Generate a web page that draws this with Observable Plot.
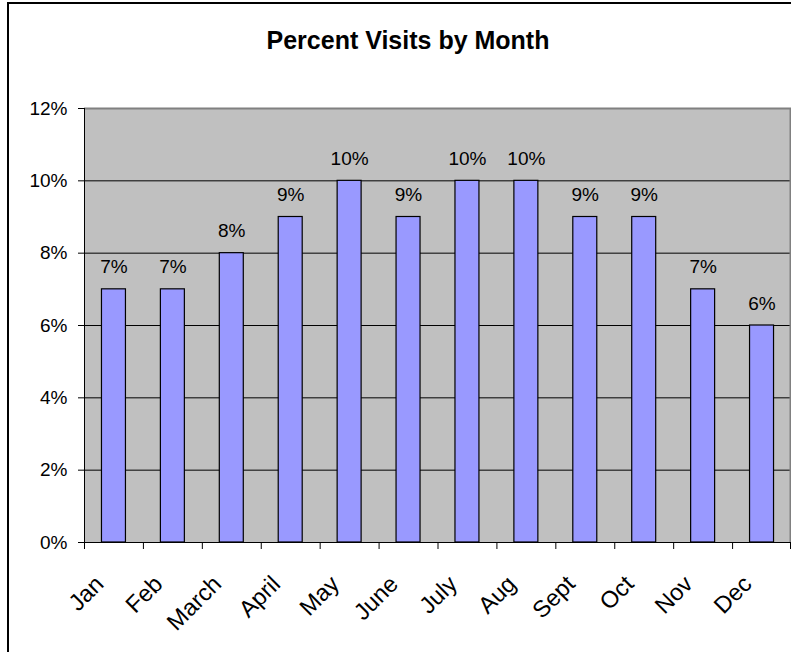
<!DOCTYPE html>
<html>
<head>
<meta charset="utf-8">
<script src="https://cdn.jsdelivr.net/npm/d3@7"></script>
<script src="https://cdn.jsdelivr.net/npm/@observablehq/plot@0.6"></script>
<style>
  html, body { margin: 0; padding: 0; background: #fff; overflow: hidden; }
  #wrap { position: relative; width: 791px; height: 652px; overflow: hidden; }
  #border { position: absolute; left: 7px; top: 2px; width: 900px; height: 800px;
            border-left: 2px solid #000; border-top: 2px solid #000; box-sizing: border-box; }
  #chart { position: absolute; left: 0; top: 0; }
</style>
</head>
<body>
<div id="wrap"><div id="border"></div><div id="chart"></div></div>
<script>
const title = "Percent Visits by Month";
const months = ["Jan", "Feb", "March", "April", "May", "June", "July", "Aug", "Sept", "Oct", "Nov", "Dec"];
const values = [7, 7, 8, 9, 10, 9, 10, 10, 9, 9, 7, 6];
const yTicks = [0, 2, 4, 6, 8, 10, 12];

const W = 791, H = 652, ML = 84, MR = 0, MT = 108, MB = 110;
const step = (W - ML - MR) / months.length;
const data = months.map((m, i) => ({month: m, value: values[i]}));
const font = "'Liberation Sans', Arial, sans-serif";

const chart = Plot.plot({
  width: W,
  height: H,
  marginLeft: ML,
  marginRight: MR,
  marginTop: MT,
  marginBottom: MB,
  style: {background: "transparent", fontFamily: font, color: "#000", overflow: "visible"},
  x: {type: "band", domain: months, paddingInner: 0.593, paddingOuter: 0.2965, round: false, axis: null},
  y: {domain: [0, 12], axis: null},
  marks: [
    Plot.frame({fill: "#C0C0C0", stroke: null}),
    Plot.ruleY(yTicks.filter(d => d > 0 && d < 12), {stroke: "#000", strokeWidth: 1}),
    Plot.barY(data, {x: "month", y: "value", fill: "#9999FF", stroke: "#000", strokeWidth: 1.2}),
    Plot.ruleY([12], {stroke: "#808080", strokeWidth: 2}),
    Plot.ruleX(["Dec"], {x: d => d, dx: step / 2 - 1, stroke: "#808080", strokeWidth: 2}),
    Plot.ruleX(["Jan"], {x: d => d, dx: -step / 2, stroke: "#000", strokeWidth: 1}),
    Plot.ruleY([0], {stroke: "#000", strokeWidth: 1}),
    // x ticks at category boundaries
    Plot.ruleX(months, {x: d => d, dx: -step / 2, y1: 0, y2: 0, insetBottom: -7, stroke: "#000"}),
    Plot.ruleX(["Dec"], {x: d => d, dx: step / 2 - 1, y1: 0, y2: 0, insetBottom: -7, stroke: "#000"}),
    Plot.axisY({ticks: yTicks, tickFormat: d => d + "%", tickSize: 6, tickPadding: 11, fontSize: 19, stroke: "#000", label: null}),
    Plot.text(data, {x: "month", y: "value", text: d => d.value + "%", dy: -16, lineAnchor: "bottom", fontSize: 19, fill: "#000"}),
    Plot.text(months, {x: d => d, text: d => d, frameAnchor: "bottom", dy: 43, dx: -9, rotate: -45,
      textAnchor: "end", lineAnchor: "bottom", fontSize: 23.5, fill: "#000"}),
    Plot.text([title], {frameAnchor: "top-left", dx: 407.5 - ML, dy: 48 - MT, textAnchor: "middle",
      lineAnchor: "bottom", fontSize: 25, fontWeight: "bold", fill: "#000"})
  ]
});
document.getElementById("chart").appendChild(chart);
</script>
</body>
</html>
